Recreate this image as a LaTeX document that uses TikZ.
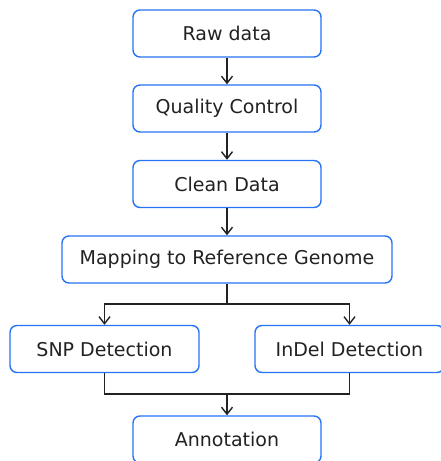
\documentclass[tikz,border=0pt]{standalone}
\usepackage{fontspec}
\setmainfont{DejaVu Sans}
\usetikzlibrary{arrows.meta}
\definecolor{boxblue}{RGB}{38,115,245}
\definecolor{ink}{RGB}{34,34,34}
\tikzset{
  stepbox/.style={draw=boxblue, line width=1.4pt, rounded corners=7pt, fill=white,
    minimum height=47pt, text=ink, font=\fontsize{19}{22}\selectfont},
  flow/.style={draw=ink, line width=1.4pt},
  arr/.style={flow, -{Straight Barb[length=7pt,width=11pt,line width=1.4pt]}}
}
\begin{document}
\begin{tikzpicture}[x=1pt,y=1pt]
\useasboundingbox (0,0) rectangle (441,461);

\node[stepbox, minimum width=188pt] (raw)   at (227,427.5) {Raw data};
\node[stepbox, minimum width=188pt] (qc)    at (227,352.5) {Quality Control};
\node[stepbox, minimum width=188pt] (clean) at (227,277)   {Clean Data};
\node[stepbox, minimum width=330pt] (map)   at (227,201.5) {Mapping to Reference Genome};
\node[stepbox, minimum width=189pt] (snp)   at (104.5,112) {SNP Detection};
\node[stepbox, minimum width=189pt] (indel) at (349.5,112) {InDel Detection};
\node[stepbox, minimum width=188pt] (annot) at (227,21.5)  {Annotation};

\coordinate (split) at (227,157);
\coordinate (join)  at (227,67);

\draw[arr] (raw) -- (qc);
\draw[arr] (qc) -- (clean);
\draw[arr] (clean) -- (map);
\draw[flow] (map) -- (split);
\draw[arr] (split) -| (snp);
\draw[arr] (split) -| (indel);
\draw[flow] (snp) |- (join);
\draw[flow] (indel) |- (join);
\draw[arr] (join) -- (annot);
\end{tikzpicture}
\end{document}
